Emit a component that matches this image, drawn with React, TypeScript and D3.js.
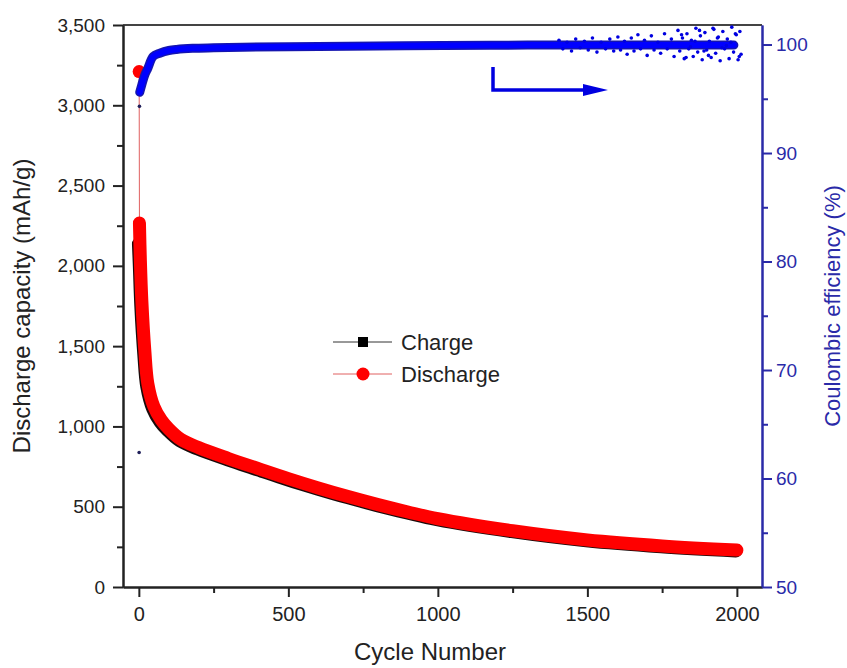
import React, { useRef, useEffect } from "react";
import * as d3 from "d3";

// first cycle, plotted on its own
const firstCycle = 1;
const firstDischarge = 3210;
const firstCharge = 2010;

// capacity (mAh/g)
const cycles = [2, 5, 10, 20, 30, 50, 75, 100, 140, 200, 300, 400, 500, 600, 700, 800, 900, 1000, 1250, 1500, 1750, 2000];
const discharge = [2267, 2040, 1783, 1472, 1267, 1125, 1040, 985, 920, 868, 800, 737, 675, 617, 563, 513, 467, 425, 350, 293, 256, 230];
const charge = [2140, 2000, 1750, 1450, 1250, 1112, 1030, 977, 913, 862, 795, 733, 671, 614, 560, 510, 465, 423, 348, 291, 254, 228];

// coulombic efficiency (%)
const ceEarlyCycles = [1, 2];
const ceEarlyValues = [62.4, 94.3];
const ceCycles = [3, 10, 20, 30, 48, 70, 100, 126, 180, 250, 348, 500, 700, 1017, 1300, 1600, 1800, 1990];
const ceValues = [95.6, 96.3, 97.2, 97.8, 98.9, 99.2, 99.45, 99.55, 99.65, 99.7, 99.75, 99.8, 99.85, 99.9, 99.95, 99.95, 99.95, 99.95];
// scattered points where the efficiency gets noisy
const ceScatterCycles = [
  1405, 1418, 1432, 1447, 1461, 1476, 1490, 1503, 1517, 1532, 1546, 1561, 1575, 1588,
  1602, 1611, 1624, 1633, 1647, 1656, 1669, 1678, 1691, 1700, 1714, 1723, 1736, 1745, 1758, 1767, 1781, 1790,
  1803, 1809, 1818, 1824, 1833, 1839, 1848, 1854, 1863, 1869, 1878, 1884, 1893, 1899, 1908, 1914, 1923, 1929,
  1938, 1944, 1953, 1959, 1968, 1974, 1983, 1989, 1998, 2004, 2010, 2014,
  1815, 1845, 1875, 1905, 1935, 1965, 1995, 1830, 1860, 1890, 1920, 1950, 1980, 2008,
];
const ceScatterValues = [
  100.4, 99.6, 100.2, 99.4, 100.5, 99.7, 100.3, 99.5, 100.6, 99.3, 100.2, 99.6, 100.5, 99.4,
  100.7, 99.5, 100.3, 99.1, 100.6, 99.4, 100.9, 99.6, 100.4, 99.0, 100.8, 99.5, 100.2, 99.2, 101.0, 99.6, 100.5, 98.9,
  101.3, 99.4, 100.6, 98.7, 101.0, 99.6, 100.4, 98.9, 101.5, 99.3, 100.8, 98.6, 101.1, 99.5, 100.3, 98.8, 101.4, 99.2,
  100.7, 98.5, 101.2, 99.6, 100.5, 98.7, 101.6, 99.3, 100.9, 98.6, 101.2, 99.1,
  100.9, 99.8, 101.3, 99.0, 100.6, 99.9, 101.0, 98.8, 100.3, 99.4, 101.5, 99.7, 100.2, 98.9,
];

const capTicks = [0, 500, 1000, 1500, 2000, 2500, 3000, 3500];
const capMinor = [250, 750, 1250, 1750, 2250, 2750, 3250];
const cycleTicks = [0, 500, 1000, 1500, 2000];
const cycleMinor = [250, 750, 1250, 1750];
const ceTicks = [50, 60, 70, 80, 90, 100];
const ceMinor = [55, 65, 75, 85, 95];

const W = 847;
const H = 668;
const FONT = "'Liberation Sans', Arial, sans-serif";
const BLUE_AXIS = "#2a2aa8";

const App = () => {
  const ref = useRef<SVGSVGElement>(null);

  useEffect(() => {
    const svg = d3.select(ref.current);
    svg.selectAll("*").remove();

    const left = 123, right = 762, top = 25, bottom = 587;

    const x = d3.scaleLinear().domain([-53, 2084]).range([left, right]);
    const y = d3.scaleLinear().domain([0, 3500]).range([bottom, top]);
    const yR = d3.scaleLinear().domain([50, 101.8]).range([bottom, top]);

    const g = svg.append("g");

    // top frame
    g.append("line")
      .attr("x1", left).attr("x2", right)
      .attr("y1", top).attr("y2", top)
      .attr("stroke", "#444").attr("stroke-width", 2);

    const styleAxis = (sel, color, size) => {
      sel.selectAll("path").attr("stroke", color).attr("stroke-width", 2);
      sel.selectAll("line").attr("stroke", color).attr("stroke-width", 2);
      sel.selectAll("text")
        .attr("fill", color)
        .style("font-family", FONT)
        .style("font-size", size + "px");
    };

    // minor ticks
    const minorL = g.append("g").attr("transform", `translate(${left},0)`)
      .call(d3.axisLeft(y).tickValues(capMinor).tickSize(6).tickSizeOuter(0).tickFormat(() => ""));
    styleAxis(minorL, "#222", 19);
    const minorB = g.append("g").attr("transform", `translate(0,${bottom})`)
      .call(d3.axisBottom(x).tickValues(cycleMinor).tickSize(6).tickSizeOuter(0).tickFormat(() => ""));
    styleAxis(minorB, "#222", 19);
    const minorR = g.append("g").attr("transform", `translate(${right},0)`)
      .call(d3.axisRight(yR).tickValues(ceMinor).tickSize(6).tickSizeOuter(0).tickFormat(() => ""));
    styleAxis(minorR, BLUE_AXIS, 19);

    const axL = g.append("g").attr("transform", `translate(${left},0)`)
      .call(d3.axisLeft(y).tickValues(capTicks).tickSize(10).tickSizeOuter(0).tickPadding(8).tickFormat(d3.format(",")));
    styleAxis(axL, "#222", 19);

    const axB = g.append("g").attr("transform", `translate(0,${bottom})`)
      .call(d3.axisBottom(x).tickValues(cycleTicks).tickSize(10).tickSizeOuter(0).tickPadding(10).tickFormat(d3.format("d")));
    styleAxis(axB, "#222", 20);

    const axR = g.append("g").attr("transform", `translate(${right},0)`)
      .call(d3.axisRight(yR).tickValues(ceTicks).tickSize(10).tickSizeOuter(0).tickPadding(4));
    styleAxis(axR, BLUE_AXIS, 19);

    // axis titles
    g.append("text")
      .attr("transform", `translate(30,${(top + bottom) / 2}) rotate(-90)`)
      .attr("text-anchor", "middle")
      .style("font-family", FONT).style("font-size", "24px")
      .attr("fill", "#222")
      .text("Discharge capacity (mAh/g)");

    g.append("text")
      .attr("transform", `translate(840,${(top + bottom) / 2}) rotate(-90)`)
      .attr("text-anchor", "middle")
      .style("font-family", FONT).style("font-size", "22px")
      .attr("fill", BLUE_AXIS)
      .text("Coulombic efficiency (%)");

    g.append("text")
      .attr("x", 430).attr("y", 660)
      .attr("text-anchor", "middle")
      .style("font-family", FONT).style("font-size", "24px")
      .attr("fill", "#222")
      .text("Cycle Number");

    const band = d3.line<number>()
      .x((d, i) => x(cycles[i]))
      .curve(d3.curveCatmullRom.alpha(0.5));

    // charge square for cycle 1 (mostly hidden)
    g.append("rect")
      .attr("x", x(firstCycle) - 6).attr("y", y(firstCharge) - 6)
      .attr("width", 12).attr("height", 12)
      .attr("fill", "#111");

    // charge band
    g.append("path")
      .datum(charge)
      .attr("d", band.y((d) => y(d)))
      .attr("fill", "none")
      .attr("stroke", "#1a0a0a")
      .attr("stroke-width", 13)
      .attr("stroke-linecap", "round")
      .attr("stroke-linejoin", "round")
      .attr("transform", "translate(-1,0.5)");

    // thin line from first discharge point
    g.append("line")
      .attr("x1", x(firstCycle)).attr("y1", y(firstDischarge))
      .attr("x2", x(cycles[0])).attr("y2", y(discharge[0]))
      .attr("stroke", "#e06060").attr("stroke-width", 1);

    // discharge band
    g.append("path")
      .datum(discharge)
      .attr("d", band.y((d) => y(d)))
      .attr("fill", "none")
      .attr("stroke", "#ff0000")
      .attr("stroke-width", 13)
      .attr("stroke-linecap", "round")
      .attr("stroke-linejoin", "round");

    g.append("circle")
      .attr("cx", x(firstCycle)).attr("cy", y(firstDischarge))
      .attr("r", 6.5).attr("fill", "#ff0000");

    // coulombic efficiency
    g.selectAll(".ce-early")
      .data(ceEarlyValues)
      .join("circle")
      .attr("cx", (d, i) => x(ceEarlyCycles[i]))
      .attr("cy", (d) => yR(d))
      .attr("r", 1.8)
      .attr("fill", "#20205a");

    const ceLine = d3.line<number>()
      .x((d, i) => x(ceCycles[i]))
      .y((d) => yR(d))
      .curve(d3.curveCatmullRom.alpha(0.5));

    g.append("path")
      .datum(ceValues)
      .attr("d", ceLine)
      .attr("fill", "none")
      .attr("stroke", "#1515b0")
      .attr("stroke-width", 9)
      .attr("stroke-linecap", "round");
    g.append("path")
      .datum(ceValues)
      .attr("d", ceLine)
      .attr("fill", "none")
      .attr("stroke", "#0000ff")
      .attr("stroke-width", 6)
      .attr("stroke-linecap", "round");

    g.selectAll(".ce-scatter")
      .data(ceScatterValues)
      .join("circle")
      .attr("cx", (d, i) => x(ceScatterCycles[i]))
      .attr("cy", (d) => yR(d))
      .attr("r", 1.8)
      .attr("fill", "#0000e0");

    // arrow pointing to right axis
    g.append("path")
      .attr("d", "M493,67 V90 H586")
      .attr("fill", "none")
      .attr("stroke", "#0000e0")
      .attr("stroke-width", 3.5);
    g.append("path")
      .attr("d", "M583,84 L608,90 L583,96 Z")
      .attr("fill", "#0000e0");

    // legend
    const legend = g.append("g").attr("transform", "translate(333,0)");
    legend.append("line")
      .attr("x1", 0).attr("x2", 59).attr("y1", 342).attr("y2", 342)
      .attr("stroke", "#333").attr("stroke-width", 1);
    legend.append("rect")
      .attr("x", 25).attr("y", 337).attr("width", 10).attr("height", 10)
      .attr("fill", "#000");
    legend.append("text")
      .attr("x", 68).attr("y", 350)
      .style("font-family", FONT).style("font-size", "22px")
      .attr("fill", "#222")
      .text("Charge");
    legend.append("line")
      .attr("x1", 0).attr("x2", 59).attr("y1", 374).attr("y2", 374)
      .attr("stroke", "#e06060").attr("stroke-width", 1);
    legend.append("circle")
      .attr("cx", 30).attr("cy", 374).attr("r", 6.5)
      .attr("fill", "#ff0000");
    legend.append("text")
      .attr("x", 68).attr("y", 382)
      .style("font-family", FONT).style("font-size", "22px")
      .attr("fill", "#222")
      .text("Discharge");
  }, []);

  return (
    <svg
      ref={ref}
      width={W}
      height={H}
      style={{ position: "absolute", left: 0, top: 0, background: "#fff" }}
    />
  );
};

export default App;
